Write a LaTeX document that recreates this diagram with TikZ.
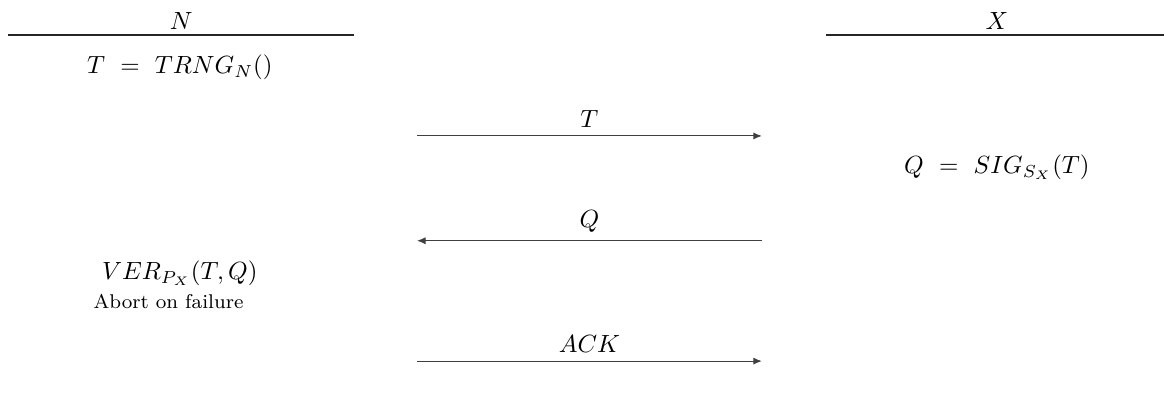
\documentclass[tikz,border=0pt]{standalone}
\usepackage{amsmath}
\usepackage{tikz}
\usetikzlibrary{arrows.meta,positioning}

\begin{document}
\begin{tikzpicture}[
    party/.style={inner sep=2pt},
    headline/.style={thick, draw=black!85},
    calc/.style={inner sep=2pt},
    message/.style={-{Latex[length=1.2mm,width=1mm]}, draw=black!75},
    msglabel/.style={above}
]
\useasboundingbox (0,0) rectangle (16.44,-5.565);

% parties
\node[party] (nname) at (2.56,-0.30) {$N$};
\node[party] (xname) at (14.08,-0.30) {$X$};
\coordinate (nleft) at (0.11,-0.494);
\coordinate (nright) at (5.00,-0.494);
\coordinate (xleft) at (11.67,-0.494);
\coordinate (xright) at (16.44,-0.494);
\draw[headline] (nleft) -- (nright);
\draw[headline] (xleft) -- (xright);

% computations
\node[calc] (trng) at (2.54,-0.95) {$T\ =\ TRNG_N()$};
\node[calc] (sig) at (14.08,-2.36) {$Q\ =\ SIG_{S_X}(T)$};
\node[calc] (ver) at (2.54,-3.86) {$VER_{P_X}(T,Q)$};
\node[calc, font=\footnotesize] (abort) at (2.38,-4.26) {Abort on failure};

% messages
\coordinate (m1start) at (5.89,-1.92);
\coordinate (m1end) at (10.76,-1.92);
\coordinate (m2start) at (10.76,-3.40);
\coordinate (m2end) at (5.89,-3.40);
\coordinate (m3start) at (5.89,-5.10);
\coordinate (m3end) at (10.76,-5.10);
\draw[message] (m1start) -- node[msglabel] (m1label) {$T$} (m1end);
\draw[message] (m2start) -- node[msglabel] (m2label) {$Q$} (m2end);
\draw[message] (m3start) -- node[msglabel] (m3label) {$ACK$} (m3end);

\end{tikzpicture}
\end{document}
